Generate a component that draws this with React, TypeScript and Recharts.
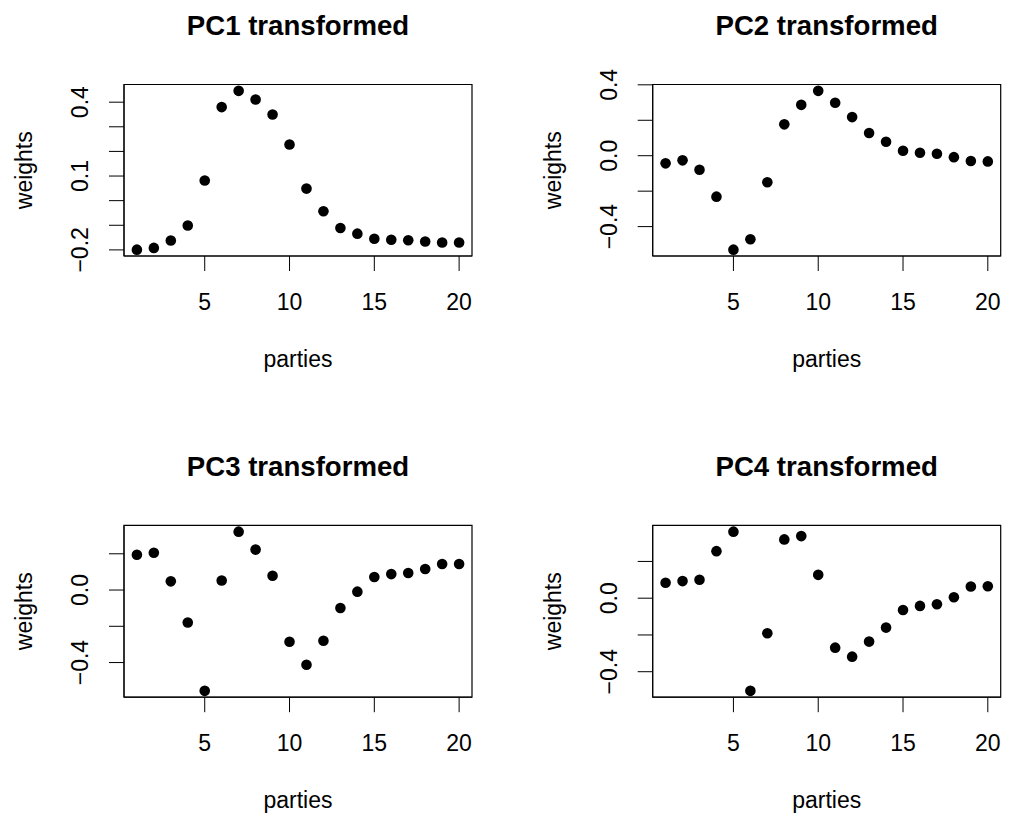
import { ScatterChart, Scatter, XAxis, YAxis, ReferenceArea } from "recharts";

const parties = [1, 2, 3, 4, 5, 6, 7, 8, 9, 10, 11, 12, 13, 14, 15, 16, 17, 18, 19, 20];

const pc1Weights = [-0.199, -0.192, -0.162, -0.101, 0.082, 0.38, 0.446, 0.411, 0.35, 0.228, 0.049, -0.043, -0.111, -0.134, -0.155, -0.159, -0.161, -0.166, -0.17, -0.17];
const pc2Weights = [-0.043, -0.026, -0.079, -0.231, -0.53, -0.471, -0.15, 0.177, 0.287, 0.366, 0.299, 0.218, 0.128, 0.079, 0.028, 0.017, 0.011, -0.008, -0.03, -0.032];
const pc3Weights = [0.195, 0.206, 0.048, -0.179, -0.556, 0.053, 0.322, 0.223, 0.079, -0.285, -0.412, -0.28, -0.099, -0.009, 0.072, 0.088, 0.094, 0.116, 0.144, 0.144];
const pc4Weights = [0.084, 0.093, 0.1, 0.256, 0.362, -0.504, -0.191, 0.32, 0.338, 0.127, -0.269, -0.318, -0.236, -0.16, -0.064, -0.042, -0.033, 0.005, 0.064, 0.065];

const xTicks = [5, 10, 15, 20];
const pc1Ticks = [-0.2, -0.1, 0, 0.1, 0.2, 0.3, 0.4];
const pc1Labels = [-0.2, 0.1, 0.4];
const pc2Ticks = [-0.4, -0.2, 0, 0.2, 0.4];
const pc2Labels = [-0.4, 0, 0.4];
const pc34Ticks = [-0.4, -0.2, 0, 0.2];
const pc34Labels = [-0.4, 0];

const FONT = "'Liberation Sans', Arial, Helvetica, sans-serif";
const W = 508;
const H = 409;

// R style 4% padding on both ends
const pad = (lo: number, hi: number): [number, number] => {
  const d = (hi - lo) * 0.04;
  return [lo - d, hi + d];
};

const fmt = (v: number) => v.toFixed(1).replace("-", "\u2212");

interface Box { l: number; r: number; t: number; b: number }

interface PanelProps {
  title: string;
  values: number[];
  yTicks: number[];
  yLabels: number[];
  left: number;
  top: number;
  box: Box;
}

const Panel = ({ title, values, yTicks, yLabels, left, top, box }: PanelProps) => {
  const data = parties.map((p, i) => ({ party: p, weight: values[i] }));
  const xDomain = pad(Math.min(...parties), Math.max(...parties));
  const yDomain = pad(Math.min(...values), Math.max(...values));

  const yw = box.l - left;
  const mr = left + W - box.r;
  const mt = box.t - top;
  const xh = top + H - box.b;
  const bL = yw;
  const bR = W - mr;
  const bT = mt;
  const bB = H - xh;
  const cx = (bL + bR) / 2;

  const yTick = ({ y, payload }: any) => {
    const show = yLabels.some((v) => Math.abs(v - payload.value) < 1e-9);
    if (!show) return <g />;
    return (
      <text transform={`translate(${bL - 36},${y}) rotate(-90)`} textAnchor="middle" fontSize={23} fill="#000" fontFamily={FONT}>
        {fmt(payload.value)}
      </text>
    );
  };

  const xTick = ({ x, payload }: any) => (
    <text x={x} y={bB + 54} textAnchor="middle" fontSize={23} fill="#000" fontFamily={FONT}>
      {payload.value}
    </text>
  );

  return (
    <div style={{ position: "absolute", left, top, width: W, height: H }}>
      <ScatterChart width={W} height={H} margin={{ top: mt, right: mr, bottom: 0, left: 0 }}>
        <XAxis
          type="number"
          dataKey="party"
          domain={xDomain}
          ticks={xTicks}
          interval={0}
          allowDataOverflow
          height={xh}
          tickSize={15}
          tickLine={{ stroke: "#000" }}
          axisLine={{ stroke: "#000" }}
          tick={xTick}
        />
        <YAxis
          type="number"
          dataKey="weight"
          domain={yDomain}
          ticks={yTicks}
          interval={0}
          allowDataOverflow
          width={yw}
          tickSize={15}
          tickLine={{ stroke: "#000" }}
          axisLine={{ stroke: "#000" }}
          tick={yTick}
        />
        <ReferenceArea
          x1={xDomain[0]}
          x2={xDomain[1]}
          y1={yDomain[0]}
          y2={yDomain[1]}
          fill="none"
          stroke="#000"
          strokeWidth={1.2}
          ifOverflow="visible"
        />
        <Scatter
          data={data}
          isAnimationActive={false}
          shape={(p: any) => <circle cx={p.cx} cy={p.cy} r={5.3} fill="#000" />}
        />
        <text x={cx} y={bT - 49.5} textAnchor="middle" fontSize={27.6} fontWeight="bold" fill="#000" fontFamily={FONT}>
          {title}
        </text>
        <text x={cx} y={bB + 111} textAnchor="middle" fontSize={23} fill="#000" fontFamily={FONT}>
          parties
        </text>
        <text transform={`translate(${bL - 92},${(bT + bB) / 2}) rotate(-90)`} textAnchor="middle" fontSize={23} fill="#000" fontFamily={FONT}>
          weights
        </text>
      </ScatterChart>
    </div>
  );
};

const App = () => {
  return (
    <div style={{ position: "absolute", left: 0, top: 0, width: 1015, height: 819, background: "#fff", fontFamily: FONT }}>
      <Panel title="PC1 transformed" values={pc1Weights} yTicks={pc1Ticks} yLabels={pc1Labels} left={0} top={0} box={{ l: 124, r: 472, t: 84.5, b: 256 }} />
      <Panel title="PC2 transformed" values={pc2Weights} yTicks={pc2Ticks} yLabels={pc2Labels} left={507} top={0} box={{ l: 652.7, r: 1000.7, t: 84.5, b: 256 }} />
      <Panel title="PC3 transformed" values={pc3Weights} yTicks={pc34Ticks} yLabels={pc34Labels} left={0} top={410} box={{ l: 124, r: 472, t: 525.3, b: 697.2 }} />
      <Panel title="PC4 transformed" values={pc4Weights} yTicks={pc34Ticks} yLabels={pc34Labels} left={507} top={410} box={{ l: 652.7, r: 1000.7, t: 525.3, b: 697.2 }} />
    </div>
  );
};

export default App;
